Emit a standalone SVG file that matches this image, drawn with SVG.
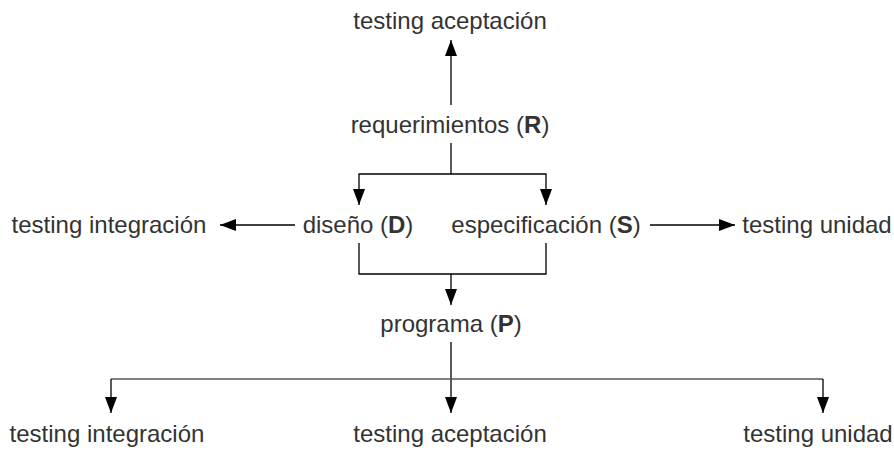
<svg xmlns="http://www.w3.org/2000/svg" width="894" height="450" viewBox="0 0 894 450">
  <style>
    .lbl { font-family: "Liberation Sans", Arial, sans-serif; font-size: 24px; fill: #333333; text-anchor: middle; }
    .b { font-weight: bold; }
    .wire { fill: none; stroke: #000000; stroke-width: 1.3; }
    .rail { fill: none; stroke: #555555; stroke-width: 1.3; }
  </style>
  <defs>
    <marker id="head" viewBox="0 0 16 12" refX="16" refY="6" markerWidth="16" markerHeight="12" markerUnits="userSpaceOnUse" orient="auto">
      <path d="M0,0 L16,6 L0,12 Z" fill="#000000"/>
    </marker>
  </defs>
  <rect width="894" height="450" fill="#ffffff"/>

  <g id="connectors">
    <!-- R up to acceptance testing -->
    <path class="wire" d="M451,105 V40" marker-end="url(#head)"/>
    <!-- R split to D and S -->
    <path class="wire" d="M451,143 V174"/>
    <path class="wire" d="M451,174 H359 V205" marker-end="url(#head)"/>
    <path class="wire" d="M451,174 H546 V205" marker-end="url(#head)"/>
    <!-- D to integration testing, S to unit testing -->
    <path class="wire" d="M295,225 H220" marker-end="url(#head)"/>
    <path class="wire" d="M650,225 H735" marker-end="url(#head)"/>
    <!-- D and S join into P -->
    <path class="wire" d="M359,243 V274 H546 V243"/>
    <path class="wire" d="M451,274 V305" marker-end="url(#head)"/>
    <!-- P fan-out -->
    <path class="wire" d="M451,342 V413" marker-end="url(#head)"/>
    <path class="rail" d="M111,379 H823"/>
    <path class="wire" d="M111,379 V413" marker-end="url(#head)"/>
    <path class="wire" d="M823,379 V413" marker-end="url(#head)"/>
  </g>

  <g id="top-acceptance"><text class="lbl" x="450" y="29">testing aceptación</text></g>
  <g id="requirements"><text class="lbl" x="450" y="133">requerimientos (<tspan class="b">R</tspan>)</text></g>
  <g id="design"><text class="lbl" x="358" y="233">diseño (<tspan class="b">D</tspan>)</text></g>
  <g id="specification"><text class="lbl" x="546" y="233">especificación (<tspan class="b">S</tspan>)</text></g>
  <g id="mid-integration"><text class="lbl" x="109" y="233">testing integración</text></g>
  <g id="mid-unit"><text class="lbl" x="817" y="233">testing unidad</text></g>
  <g id="program"><text class="lbl" x="451" y="332">programa (<tspan class="b">P</tspan>)</text></g>
  <g id="bottom-integration"><text class="lbl" x="107" y="442">testing integración</text></g>
  <g id="bottom-acceptance"><text class="lbl" x="450" y="442">testing aceptación</text></g>
  <g id="bottom-unit"><text class="lbl" x="818" y="442">testing unidad</text></g>
</svg>
